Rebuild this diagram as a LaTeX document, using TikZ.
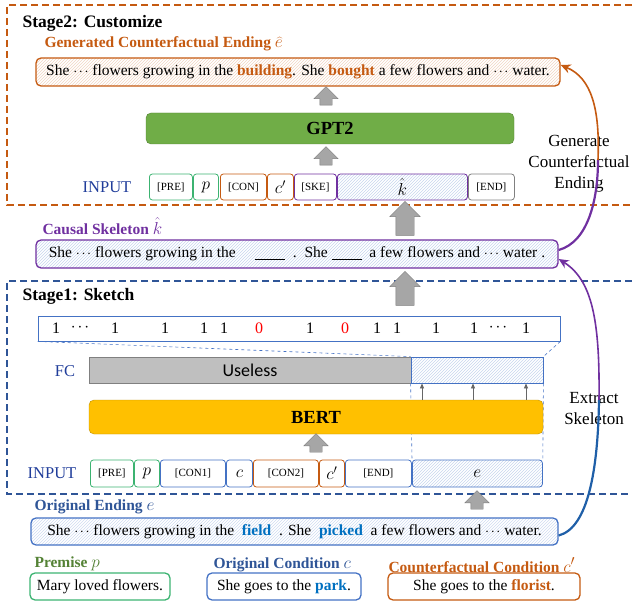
\documentclass[tikz,border=0pt]{standalone}
\usepackage{fontspec}
\setmainfont{Liberation Serif}
\newfontfamily\uselessfont{Carlito}
\usetikzlibrary{patterns,shapes.arrows,arrows.meta}

\definecolor{ogorange}{HTML}{C55A11}
\definecolor{skpurple}{HTML}{7030A0}
\definecolor{stblue}{HTML}{2F5597}
\definecolor{bxblue}{HTML}{4472C4}
\definecolor{tkgreen}{HTML}{3CB371}
\definecolor{prgreen}{HTML}{548235}
\definecolor{gptgreen}{HTML}{70AD47}
\definecolor{bertyellow}{HTML}{FFC000}
\definecolor{wordblue}{HTML}{0070C0}
\definecolor{inblue}{HTML}{203D9A}
\definecolor{arrowgray}{HTML}{A6A6A6}
\definecolor{extblue}{HTML}{1F5FA8}

\newcommand\dts{$\cdot\mkern-2mu\cdot\mkern-2mu\cdot$}
\newcommand\lm[1]{{\fontsize{19}{19}\selectfont$#1$}}

\tikzset{
  tok/.style={draw=#1, rounded corners=3pt, line width=0.8pt, minimum height=26pt,
    inner sep=0pt, anchor=west, font=\fontsize{11}{11}\selectfont},
  mtok/.style={tok=#1, font=\fontsize{17}{17}\selectfont},
  hatch/.style={pattern=north east lines, pattern color=#1},
  sent/.style={draw=#1, rounded corners=5pt, line width=1.3pt, minimum height=28pt,
    inner sep=0pt, font=\fontsize{15.5}{17}\selectfont},
  title/.style={anchor=west, font=\fontsize{17.5}{19}\selectfont\bfseries},
  sub/.style={anchor=west, text=#1, font=\fontsize{15.5}{17}\selectfont\bfseries},
  lbl/.style={text=inblue, font=\fontsize{16.5}{18}\selectfont},
  side/.style={align=center, font=\fontsize{17}{21}\selectfont},
  bigup/.style={single arrow, shape border rotate=90, fill=arrowgray,
    draw=arrowgray!75!black, inner sep=9pt, single arrow head extend=6pt,
    minimum height=34pt},
  smallup/.style={single arrow, shape border rotate=90, fill=arrowgray,
    draw=arrowgray!75!black, inner sep=6pt, single arrow head extend=6pt,
    minimum height=18pt},
  stagetwo/.style={draw=ogorange, line width=1.4pt, dash pattern=on 7pt off 4pt},
  stageone/.style={draw=stblue, line width=1.4pt, dash pattern=on 7pt off 4pt},
  proj/.style={draw=bxblue, dashed, line width=0.6pt}
}

\begin{document}
\begin{tikzpicture}[x=1pt, y=-1pt]
  \useasboundingbox (0,0) rectangle (632,604);

  % stage frames
  \draw[stagetwo] (632,5) -- (7,5) -- (7,205) -- (632,205);
  \draw[stageone] (632,281) -- (7,281) -- (7,494) -- (632,494);

  % stage 2
  \node[title] (st2) at (19,23) {Stage2: Customize};
  \node[sub=ogorange] (genlbl) at (41,44) {Generated Counterfactual Ending \lm{\widehat{e}}};
  \node[sent=ogorange, hatch=ogorange!25, minimum width=524pt] (gen) at (298,72)
    {She \dts{} flowers growing in the \textcolor{ogorange}{\textbf{building}}.
     She \textcolor{ogorange}{\textbf{bought}} a few flowers and \dts{} water.};
  \node[smallup] (ar1) at (326,99) {};
  \node[draw=gptgreen!75!black, fill=gptgreen, rounded corners=5pt, minimum width=368pt,
    minimum height=31pt, font=\fontsize{18.5}{18.5}\selectfont\bfseries] (gpt) at (330,128.5) {GPT2};
  \node[smallup] (ar2) at (326,159) {};
  \node[lbl] (in2) at (107,187) {INPUT};
  \node[tok=tkgreen, minimum width=43pt] (pre2) at (149,187) {[PRE]};
  \node[mtok=tkgreen, minimum width=25pt] (p2) at (193,187) {$p$};
  \node[tok=ogorange, minimum width=46pt] (con) at (220,187) {[CON]};
  \node[mtok=ogorange, minimum width=26pt] (cp2) at (267,187) {$c'$};
  \node[tok=skpurple, minimum width=42pt] (ske) at (294,187) {[SKE]};
  \node[mtok=skpurple, hatch=bxblue!30, minimum width=130pt] (k) at (337,187) {$\hat{k}$};
  \node[tok=gray, minimum width=46pt] (end2) at (468,187) {[END]};

  % causal skeleton
  \node[bigup] (ar3) at (405,223) {};
  \node[sub=skpurple] (sklbl) at (39,226) {Causal Skeleton \lm{\hat{k}}};
  \node[sent=skpurple, hatch=bxblue!30, minimum width=522pt] (skel) at (297,254)
    {She \dts{} flowers growing in the \quad\rule[-2pt]{30pt}{0.6pt}\ \ .\ \ She\ \rule[-2pt]{30pt}{0.6pt}\ \ a few flowers and \dts{} water .};
  \node[bigup] (ar4) at (405,293) {};

  % stage 1
  \node[title] (st1) at (19,296) {Stage1: Sketch};
  \node[draw=bxblue, line width=0.8pt, minimum width=522pt, minimum height=25pt] (lab) at (299,328.5) {};
  \foreach \x/\v in {56/1, 80/\dts, 115/1, 165/1, 204/1, 224/1, 259/\textcolor{red}{0},
    310/1, 345/\textcolor{red}{0}, 377/1, 397/1, 436/1, 474/1, 498/\dts, 526/1}
    \node[font=\fontsize{16}{16}\selectfont] at (\x,328) {\v};

  \node[lbl] (fc) at (65,371) {FC};
  \node[draw=gray, fill=gray!50, line width=0.8pt, minimum width=322pt, minimum height=26pt,
    font=\fontsize{18}{18}\uselessfont] (useless) at (250,370) {Useless};
  \node[draw=bxblue, hatch=bxblue!30, line width=0.8pt, minimum width=132pt, minimum height=26pt] (fch) at (477,370) {};
  \draw[proj] (lab.south west) -- (fch.north west);
  \draw[proj] (lab.south east) -- (fch.north east);

  \node[lbl] (in1) at (52,473) {INPUT};
  \node[tok=tkgreen, minimum width=43pt, minimum height=27pt] (pre1) at (90,473.5) {[PRE]};
  \node[mtok=tkgreen, minimum width=25pt, minimum height=27pt] (p1) at (134,473.5) {$p$};
  \node[tok=bxblue, minimum width=65pt, minimum height=27pt] (con1) at (160,473.5) {[CON1]};
  \node[mtok=bxblue, minimum width=26pt, minimum height=27pt] (c1) at (226,473.5) {$c$};
  \node[tok=ogorange, minimum width=65pt, minimum height=27pt] (con2) at (253,473.5) {[CON2]};
  \node[mtok=ogorange, minimum width=25pt, minimum height=27pt] (cp1) at (319,473.5) {$c'$};
  \node[tok=bxblue, minimum width=66pt, minimum height=27pt] (end1) at (345,473.5) {[END]};
  \node[mtok=bxblue, hatch=bxblue!30, minimum width=130pt, minimum height=27pt] (e1) at (412,473.5) {$e$};
  \draw[proj] (fch.south west) -- (e1.north west);
  \draw[proj] (fch.south east) -- (e1.north east);

  \node[draw=bertyellow!75!black, fill=bertyellow, rounded corners=5pt, minimum width=454pt,
    minimum height=34pt, font=\fontsize{18.5}{18.5}\selectfont\bfseries] (bert) at (316,417) {BERT};
  \coordinate (u1) at (422,0);
  \coordinate (u2) at (473,0);
  \coordinate (u3) at (526,0);
  \begin{scope}[draw=gray!80!black, line width=0.8pt, -{Triangle[length=5pt,width=4pt]}]
    \draw (bert.north -| u1) -- (fch.south -| u1);
    \draw (bert.north -| u2) -- (fch.south -| u2);
    \draw (bert.north -| u3) -- (fch.south -| u3);
  \end{scope}
  \node[smallup] (ar5) at (316,446) {};

  % original ending
  \node[smallup] (ar6) at (477,503) {};
  \node[sub=stblue] (orlbl) at (31,507) {Original Ending \lm{e}};
  \node[sent=bxblue, hatch=bxblue!25, minimum width=527pt, minimum height=27pt] (orig) at (294.5,531.5)
    {She \dts{} flowers growing in the \ \textcolor{wordblue}{\textbf{field}}\ \ . She \ \textcolor{wordblue}{\textbf{picked}}\ \ a few flowers and \dts{} water.};

  % conditions
  \node[sub=prgreen] (prlbl) at (31,564) {Premise \lm{p}};
  \node[sent=tkgreen, minimum width=140pt, minimum height=27pt] (prem) at (100,586.5) {Mary loved flowers.};
  \node[sub=stblue] (oclbl) at (210,565) {Original Condition \lm{c}};
  \node[sent=bxblue, minimum width=154pt, minimum height=27pt] (ocond) at (284,586.5)
    {She goes to the \textcolor{wordblue}{\textbf{park}}.};
  \node[sub=ogorange] (cclbl) at (385,565) {Counterfactual Condition \lm{c'}};
  \node[sent=ogorange, minimum width=192pt, minimum height=27pt] (ccond) at (484,586.5)
    {She goes to the \textcolor{ogorange}{\textbf{florist}}.};

  % side arrows
  \node[side] (gentxt) at (579,164) {Generate\\Counterfactual\\Ending};
  \node[side] (extxt) at (594,409) {Extract\\Skeleton};
  \coordinate (exmid) at (599,400);
  \coordinate (genmid) at (598,160);
  \draw[extblue, line width=2.2pt] ([yshift=-4pt]orig.east) .. controls (588,528) and (598,470) .. (exmid);
  \draw[skpurple, line width=1.6pt, -{Stealth[length=10pt,width=9pt]}] (exmid) .. controls (600,320) and (592,280) .. ([yshift=-5pt]skel.east);
  \draw[skpurple, line width=2.2pt] ([yshift=4pt]skel.east) .. controls (588,242) and (598,200) .. (genmid);
  \draw[ogorange, line width=1.6pt, -{Stealth[length=10pt,width=9pt]}] (genmid) .. controls (600,110) and (592,78) .. ([yshift=7pt]gen.east);
\end{tikzpicture}
\end{document}
